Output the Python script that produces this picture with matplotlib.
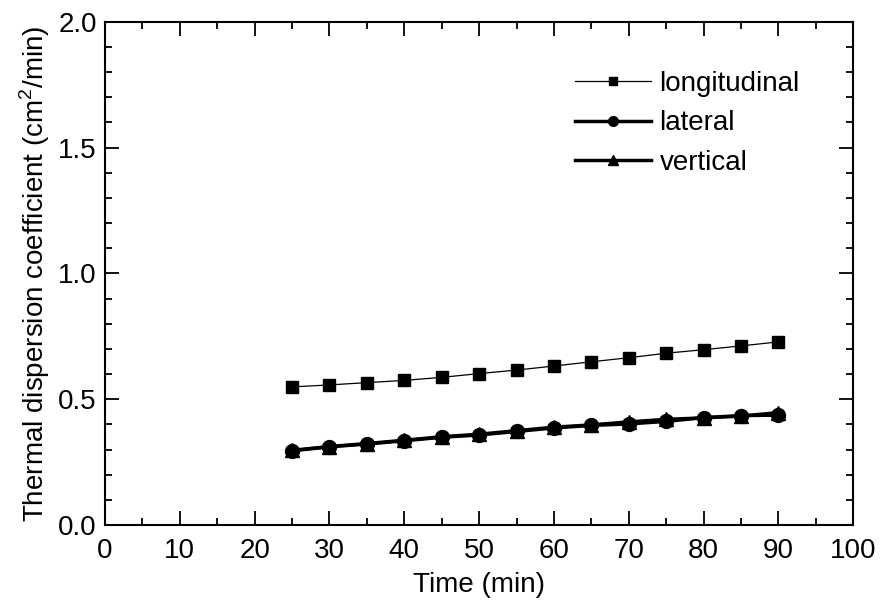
import matplotlib
matplotlib.use("Agg")
import matplotlib.pyplot as plt
from matplotlib.ticker import MultipleLocator

plt.rcParams['font.family'] = ['Liberation Sans', 'DejaVu Sans']
plt.rcParams['mathtext.fontset'] = 'custom'
plt.rcParams['mathtext.rm'] = 'Liberation Sans'

# time (min)
t = [25, 30, 35, 40, 45, 50, 55, 60, 65, 70, 75, 80, 85, 90]
# dispersion coefficients (cm2/min)
longitudinal = [0.549, 0.557, 0.566, 0.575, 0.587, 0.602, 0.616, 0.632,
                0.649, 0.665, 0.683, 0.697, 0.712, 0.728]
lateral = [0.295, 0.311, 0.322, 0.335, 0.349, 0.358, 0.372, 0.386,
           0.396, 0.402, 0.412, 0.427, 0.435, 0.437]
vertical = [0.297, 0.312, 0.324, 0.337, 0.351, 0.361, 0.375, 0.389,
            0.398, 0.410, 0.420, 0.426, 0.433, 0.447]

fig = plt.figure(figsize=(8.86, 6.07), dpi=100)
ax = fig.add_axes([0.1185, 0.135, 0.8445, 0.829])

ax.plot(t, longitudinal, color='black', lw=0.9, marker='s', ms=9,
        label='longitudinal')
ax.plot(t, lateral, color='black', lw=2.5, marker='o', ms=10,
        label='lateral')
ax.plot(t, vertical, color='black', lw=2.5, marker='^', ms=10,
        label='vertical')

ax.set_xlim(0, 100)
ax.set_ylim(0, 2.0)
ax.xaxis.set_major_locator(MultipleLocator(10))
ax.xaxis.set_minor_locator(MultipleLocator(5))
ax.yaxis.set_major_locator(MultipleLocator(0.5))
ax.yaxis.set_minor_locator(MultipleLocator(0.1))
ax.tick_params(which='both', direction='in', top=True, right=True,
               labelsize=20, width=1.3)
ax.tick_params(which='major', length=10)
ax.tick_params(which='minor', length=5)
ax.tick_params(axis='x', pad=9)
ax.tick_params(axis='y', pad=6)
for s in ax.spines.values():
    s.set_linewidth(1.5)

ax.set_xlabel('Time (min)', fontsize=20, labelpad=6)
ax.set_ylabel('Thermal dispersion coefficient (cm$^2$/min)', fontsize=20,
              labelpad=4)

ax.legend(loc='upper left', bbox_to_anchor=(0.628, 0.902), frameon=False,
          fontsize=20, handlelength=2.75, handletextpad=0.3,
          labelspacing=0.48, borderpad=0, borderaxespad=0, markerscale=0.7)

fig.savefig('out.png', dpi=100)
